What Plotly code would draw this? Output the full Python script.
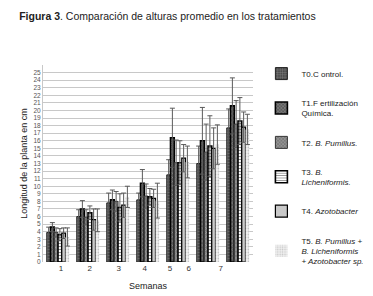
import plotly.graph_objects as go

weeks = [1, 2, 3, 4, 5, 6, 7]
week_labels = ["1", "2", "3", "4", "5", "6", "7"]
label_pos = [1.1, 2.06, 3.02, 3.89, 4.73, 5.36, 6.42]

treatments = [
    "T0.C ontrol.",
    "T1.F ertilización<br>Química.",
    "T2. <i>B. Pumillus.</i>",
    "T3. <i>B.<br>Licheniformis.</i>",
    "T4. <i>Azotobacter</i>",
    "T5. <i>B. Pumillus +<br>B. Licheniformis<br>+ Azotobacter sp.</i>",
]

t0 = [3.9, 6.0, 7.8, 8.2, 11.5, 13.0, 17.7]
t1 = [4.6, 7.0, 8.2, 10.4, 16.4, 16.0, 20.6]
t2 = [3.9, 5.9, 8.0, 8.7, 13.1, 14.5, 18.2]
t3 = [3.6, 6.5, 7.2, 8.6, 13.1, 15.3, 18.6]
t4 = [3.8, 5.6, 7.5, 8.4, 13.7, 15.0, 17.8]
t5 = [3.3, 5.5, 8.6, 8.1, 13.2, 15.5, 17.5]

e0 = [0.7, 0.9, 1.3, 0.9, 2.0, 2.3, 2.5]
e1 = [0.6, 1.1, 1.3, 1.8, 3.9, 4.4, 3.7]
e2 = [0.6, 1.0, 1.3, 1.6, 3.0, 3.7, 3.1]
e3 = [0.8, 0.9, 1.8, 1.1, 2.9, 4.0, 3.1]
e4 = [0.7, 1.4, 1.6, 1.2, 1.8, 2.7, 2.0]
e5 = [1.2, 1.5, 1.4, 2.3, 2.1, 2.6, 2.0]

values = [t0, t1, t2, t3, t4, t5]
errors = [e0, e1, e2, e3, e4, e5]

styles = [
    dict(bg="#4d4d4d", fg="#bdbdbd", shape="+", size=3, lc="#222222", lw=1.0),
    dict(bg="#5a5a5a", fg="#e0e0e0", shape="x", size=3, lc="#000000", lw=1.6),
    dict(bg="#7a7a7a", fg="#e8e8e8", shape="x", size=3, lc="#333333", lw=1.0),
    dict(bg="#ffffff", fg="#000000", shape="-", size=3, lc="#000000", lw=1.6),
    dict(bg="#c9c9c9", fg="#ffffff", shape="", size=3, lc="#000000", lw=1.2),
    dict(bg="#f0f0f0", fg="#9a9a9a", shape=".", size=3, lc="rgba(0,0,0,0)", lw=0),
]

fig = go.Figure()
for i, (name, vals, errs, st) in enumerate(zip(treatments, values, errors, styles)):
    fig.add_trace(go.Bar(
        x=weeks, y=vals, name=name, legendgroup=f"g{i}",
        error_y=dict(type="data", array=errs, visible=True, color="#5a5a5a",
                     thickness=1, width=2.5),
        marker=dict(
            color=st["bg"],
            line=dict(color=st["lc"], width=st["lw"]),
            pattern=dict(shape=st["shape"], fgcolor=st["fg"], bgcolor=st["bg"],
                         size=st["size"], solidity=0.3, fillmode="overlay"),
        ),
    ))

sans = "Liberation Sans, Arial"

fig.update_layout(
    width=373, height=296,
    margin=dict(l=35, r=105, t=57, b=42),
    paper_bgcolor="white", plot_bgcolor="white",
    barmode="group", bargap=0.25, bargroupgap=0,
    title=dict(
        text="<b>Figura 3</b>. Comparación de alturas promedio en los tratamientos",
        xref="container", yref="container", x=0.03, xanchor="left",
        y=0.972, yanchor="middle",
        font=dict(family=sans, size=10.5, color="#222222"),
    ),
    legend=dict(
        x=1.04, xanchor="left", y=1.03, yanchor="top",
        font=dict(family=sans, size=8, color="#222222"),
        tracegroupgap=13, itemwidth=30, bgcolor="rgba(0,0,0,0)",
        maxheight=1.0,
    ),
    showlegend=True,
)

fig.update_xaxes(
    range=[0.5, 7.5], tickmode="array", tickvals=label_pos, ticktext=week_labels,
    showgrid=False, zeroline=False, showline=False, ticks="",
    tickfont=dict(family=sans, size=8, color="#333333"),
    title=dict(text="Semanas", font=dict(family=sans, size=9, color="#222222"),
               standoff=10),
)

fig.update_yaxes(
    range=[0, 26], tickmode="array", tickvals=list(range(0, 27)),
    ticktext=[str(v) for v in range(0, 26)] + [""],
    showgrid=True, gridcolor="#c8c8c8", gridwidth=1,
    zeroline=False, showline=True, linecolor="#c8c8c8", ticks="",
    tickfont=dict(family=sans, size=6.5, color="#555555"),
    title=dict(text="Longitud de la planta en cm",
               font=dict(family=sans, size=9, color="#222222"), standoff=4),
)

fig.write_html("out.html")
